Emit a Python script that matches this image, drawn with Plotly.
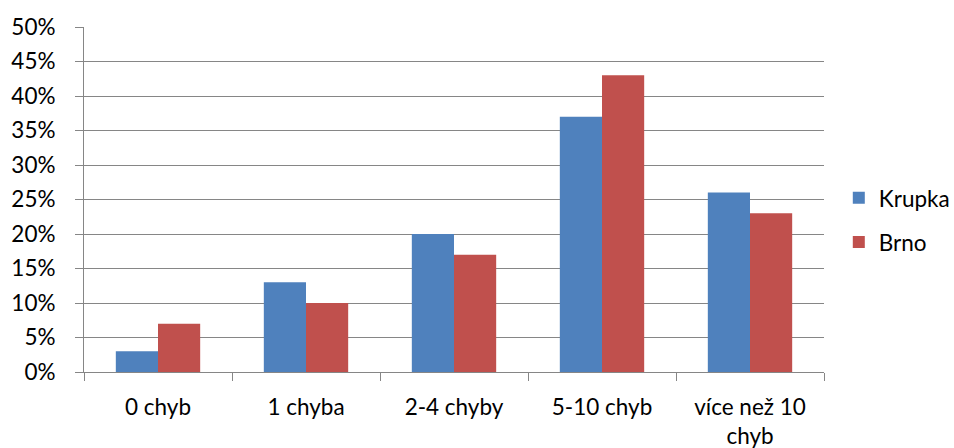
import plotly.graph_objects as go

categories = ["0 chyb", "1 chyba", "2-4 chyby", "5-10 chyb", "více než 10<br>chyb"]
krupka = [0.03, 0.13, 0.20, 0.37, 0.26]
brno = [0.07, 0.10, 0.17, 0.43, 0.23]
y_ticks = [i / 100 for i in range(0, 51, 5)]

font = dict(family="Lato, 'Open Sans', sans-serif", size=22.5, color="#000000")
grid = "#868686"

fig = go.Figure()
fig.add_trace(go.Bar(name="Krupka", x=categories, y=krupka,
                     marker=dict(color="#4F81BD", line=dict(width=0)),
                     legendgroup="k"))
fig.add_trace(go.Bar(name="Brno", x=categories, y=brno,
                     marker=dict(color="#C0504D", line=dict(width=0)),
                     legendgroup="b"))

fig.update_layout(
    width=954, height=448,
    margin=dict(l=84, r=130, t=27, b=76, autoexpand=False),
    paper_bgcolor="white", plot_bgcolor="white",
    font=font,
    barmode="group", bargap=0.43, bargroupgap=0,
    showlegend=True,
    legend=dict(x=1.02, y=0.44, yanchor="middle", xanchor="left",
                tracegroupgap=12, font=font, itemwidth=30),
    xaxis=dict(showline=True, linecolor=grid, linewidth=1,
               ticks="outside", tickson="boundaries", ticklen=8,
               tickcolor=grid, showgrid=False, fixedrange=True,
               ticklabelstandoff=15, automargin=False),
    yaxis=dict(range=[0, 0.5], tickvals=y_ticks, tickformat=".0%",
               showline=True, linecolor=grid, linewidth=1,
               ticks="outside", ticklen=8, tickcolor=grid,
               showgrid=True, gridcolor=grid, gridwidth=1,
               zeroline=False, ticklabelstandoff=15, automargin=False),
)

fig.write_html("out.html")
